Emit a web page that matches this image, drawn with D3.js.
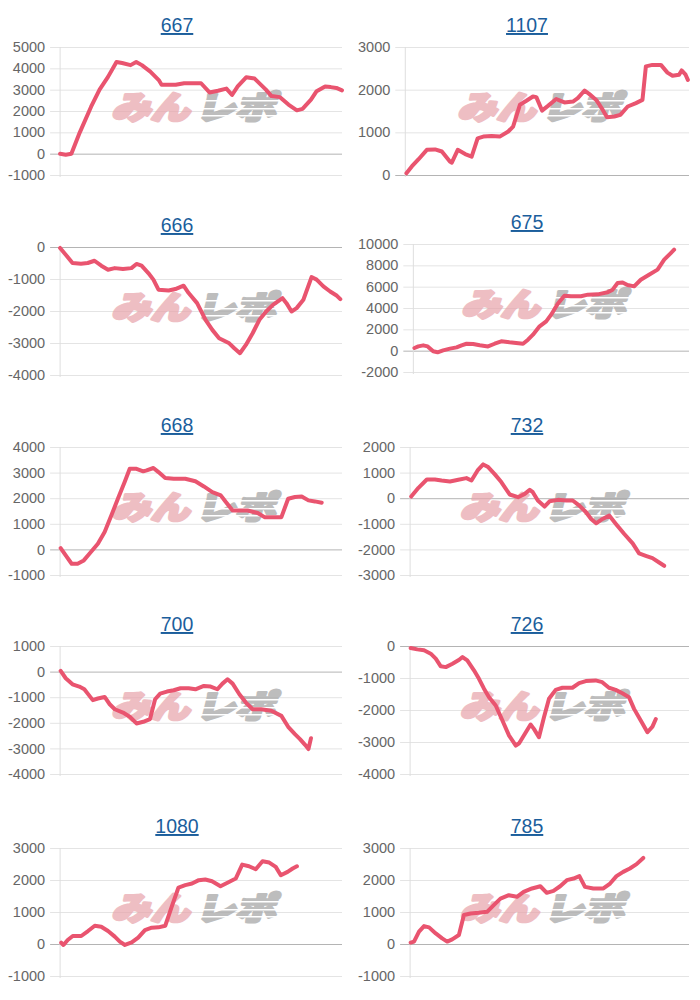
<!DOCTYPE html>
<html><head><meta charset="utf-8">
<script src="https://cdn.jsdelivr.net/npm/d3@7"></script>
<style>body{margin:0;background:#fff;} svg{display:block;}</style>
</head><body>
<svg id="chart" width="700" height="1000"></svg>
<script>
// ---- data: [progress %, 差枚] ----
const titles = ["667","1107","666","675","668","732","700","726","1080","785"];
const yRanges = [[-1000,5000],[0,3000],[-4000,0],[-2000,10000],[-1000,4000],[-3000,2000],[-4000,1000],[-4000,0],[-1000,3000],[-1000,3000]];
const yStepSizes = [1000,1000,1000,2000,1000,1000,1000,1000,1000,1000];

const s667 = [[0,0],[2,-50],[4,0],[7,1000],[11,2200],[14,3000],[17,3600],[20,4300],[22,4250],[25,4150],[27,4300],[29,4150],[32,3850],[35,3450],[36,3230],[41,3230],[44,3300],[50,3300],[53,2870],[56,2950],[59,3050],[61,2750],[63,3150],[66,3580],[69,3520],[73,3000],[75,2700],[78,2650],[81,2300],[84,2030],[86,2100],[89,2530],[91,2930],[94,3150],[96,3120],[98,3080],[100,2970]];
const s1107 = [[0.4,40],[2.3,200],[4.7,370],[7.6,590],[10.5,600],[12.9,550],[15.8,310],[16.4,290],[18.5,590],[21.1,490],[23.4,430],[25.5,860],[27.5,900],[30.4,915],[33.3,900],[36.3,1020],[38,1135],[40.4,1645],[42.7,1740],[45,1840],[46.2,1825],[48.2,1510],[50.3,1620],[53.2,1780],[56.1,1700],[59.1,1720],[60.8,1800],[63.2,1980],[64.9,1895],[67.3,1760],[69.6,1525],[71.1,1355],[73.7,1370],[75.8,1410],[78.4,1605],[81.3,1685],[83.6,1760],[84.8,2545],[87.1,2580],[90.1,2580],[92.4,2400],[94.2,2325],[96.5,2350],[97.4,2450],[98.8,2350],[99.6,2230]];
const s666 = [[0,-30],[2,-240],[4.4,-500],[7.4,-520],[9.8,-500],[12.2,-430],[14.6,-585],[17,-710],[19.4,-660],[22.3,-690],[25.3,-660],[27.1,-530],[28.9,-585],[31.3,-815],[33.1,-1020],[34.9,-1335],[38.5,-1360],[40.9,-1315],[43.8,-1210],[45.6,-1440],[48.6,-1755],[51.6,-2275],[54,-2590],[56.4,-2850],[60,-3010],[61.8,-3165],[63.8,-3320],[65.9,-3060],[68.3,-2695],[70.7,-2275],[73.1,-2015],[75.5,-1810],[78.9,-1600],[80.3,-1755],[82.1,-2015],[83.9,-1910],[86.3,-1650],[89.2,-940],[91,-1020],[93.4,-1230],[95.8,-1390],[98.2,-1525],[99.4,-1630]];
const s675 = [[0.4,250],[1.8,400],[3.6,500],[5.2,400],[7.2,-60],[8.8,-150],[10.8,30],[13.3,190],[15.7,310],[17.5,500],[19.3,650],[21.7,625],[24.1,500],[27.1,400],[29.5,650],[31.9,875],[34.9,780],[37.3,720],[39.8,650],[41.6,1030],[43.4,1500],[45.8,2280],[48.2,2750],[50,3375],[52.4,4400],[54.8,5150],[57.2,5100],[60.8,5100],[63.3,5250],[66.9,5280],[70.5,5470],[72.3,5720],[74.1,6340],[75.9,6400],[77.7,6150],[80.1,6030],[82.5,6650],[85.5,7120],[88.6,7600],[91,8530],[93.4,9150],[94.6,9470]];
const s668 = [[0.2,50],[2,-235],[4.1,-560],[6.2,-560],[8.4,-430],[10.4,-170],[13.4,220],[15.8,680],[18.2,1330],[20.5,1980],[22.9,2630],[24.7,3150],[27.1,3150],[29.5,3050],[30.7,3090],[33.1,3180],[34.9,3020],[37.3,2790],[40.3,2760],[44.4,2760],[48,2660],[51,2460],[54,2240],[57,2110],[58.8,1850],[61.2,1520],[63.6,1520],[66.5,1520],[70.1,1420],[72.5,1260],[75.5,1260],[78.5,1260],[80.9,1980],[83.3,2045],[85.7,2070],[88.1,1915],[90.4,1875],[92.8,1825]];
const s732 = [[0.4,65],[3,405],[6,730],[8.9,730],[11.3,690],[14.3,655],[17.3,720],[20.2,785],[22,690],[24.2,1085],[26.2,1320],[28,1215],[30.4,930],[32.7,630],[35.7,145],[38.7,40],[41.1,170],[42.9,325],[44,235],[45.8,-90],[48.2,-325],[50,-120],[53,-65],[56,-90],[58.3,-90],[60.7,-290],[63.1,-550],[64.9,-810],[66.7,-980],[69,-810],[71.4,-680],[73.8,-1005],[76.8,-1400],[79.8,-1765],[82.1,-2155],[84.5,-2250],[86.9,-2340],[89.3,-2510],[91.1,-2640]];
const s700 = [[0.2,25],[2,-260],[4.4,-495],[6.8,-585],[8.6,-690],[9.8,-860],[11.6,-1115],[13.4,-1050],[15.8,-990],[17.6,-1275],[19.4,-1470],[22.3,-1600],[24.7,-1765],[27.1,-2025],[29.5,-1960],[31.9,-1855],[33.7,-1080],[35.5,-860],[37.9,-780],[40.3,-730],[42.7,-650],[45.6,-650],[48,-690],[51,-560],[53.4,-585],[55.8,-690],[57.6,-470],[59.4,-300],[61.2,-470],[63.6,-885],[65.9,-1210],[68.3,-1470],[71.3,-1470],[74.9,-1530],[78.5,-1730],[80.9,-2155],[83.3,-2440],[85.1,-2635],[86.9,-2860],[88.1,-3025],[89,-2600]];
const s726 = [[0.2,-60],[2.6,-105],[5,-135],[7.4,-240],[9.2,-395],[11,-635],[12.8,-660],[15.2,-555],[17.6,-430],[18.8,-345],[20.5,-450],[22.9,-760],[24.7,-1025],[26.5,-1335],[28.3,-1600],[30.7,-1860],[33.1,-2330],[35.5,-2800],[37.9,-3110],[39.1,-3040],[41.5,-2695],[43.2,-2455],[44.4,-2590],[46.2,-2850],[48,-2225],[49.8,-1650],[52.2,-1370],[54.6,-1305],[58.2,-1305],[60.6,-1160],[63,-1095],[66.5,-1075],[68.9,-1130],[71.3,-1305],[73.7,-1370],[76.1,-1475],[78.5,-1600],[80.3,-1965],[82.7,-2330],[85.1,-2695],[86.9,-2520],[88.1,-2280]];
const s1080 = [[0.4,40],[1.2,-30],[2.7,125],[4.5,250],[7.5,250],[9.9,405],[12.3,570],[14.6,540],[17,405],[19.4,230],[21.2,75],[23,-30],[25.4,50],[27.7,200],[30.1,435],[32.5,510],[34.9,520],[37.3,570],[39.6,1165],[42,1765],[44.4,1840],[46.8,1890],[49.2,1995],[51.5,2015],[53.9,1960],[56.9,1805],[59.9,1940],[62.3,2045],[64.6,2480],[67,2430],[69.4,2335],[71.8,2585],[74.2,2545],[76.5,2410],[78.3,2150],[80.7,2255],[82.5,2360],[84,2430]];
const s785 = [[0.2,40],[1.4,75],[3.2,385],[5,560],[6.8,520],[9.2,330],[11.5,175],[13.3,75],[15.1,145],[17.5,280],[19.3,905],[21.7,955],[24.6,975],[27.6,1005],[30,1215],[32.4,1420],[35.4,1525],[38.3,1475],[40.7,1630],[43.7,1735],[46.7,1805],[49,1600],[51.4,1660],[53.8,1805],[56.2,1995],[58.6,2045],[60.7,2120],[62.7,1785],[65.7,1735],[69.3,1735],[71.7,1890],[74,2120],[76.4,2255],[78.8,2360],[81.2,2495],[83.6,2690]];

const seriesList = [s667,s1107,s666,s675,s668,s732,s700,s726,s1080,s785];

// ---- layout ----
const plotTops = [47,47,247,244,447,447,646,646,848,848];
const plotH = 128;
const FONT = "'Liberation Sans', Arial, sans-serif";
const svg = d3.select("#chart");

seriesList.forEach((data, i) => {
  const col = i % 2, colX = col * 350;
  const top = plotTops[i], bottom = top + plotH;
  const [ymin, ymax] = yRanges[i];
  const ticks = d3.range(ymin, ymax + 1, yStepSizes[i]);
  const g = svg.append("g");

  const tmp = g.append("text").attr("font-family", FONT).attr("font-size", 14.5);
  let w = 0;
  ticks.forEach(t => { tmp.text(String(t)); w = Math.max(w, tmp.node().getComputedTextLength()); });
  tmp.remove();

  const left = colX + 8 + w + 15;
  const right = colX + (col ? 339 : 342);
  const x = d3.scaleLinear().domain([0, 100]).range([left, right]);
  const y = d3.scaleLinear().domain([ymin, ymax]).range([bottom, top]);

  // title
  g.append("text")
    .attr("x", colX + 177).attr("y", top - 15)
    .attr("text-anchor", "middle")
    .attr("font-family", FONT).attr("font-size", 19.5)
    .attr("fill", "#1b5e9c")
    .style("text-decoration", "underline")
    .text(titles[i]);

  // axis + grid
  const ax = g.append("g")
    .attr("transform", `translate(${left - 10},0)`)
    .call(d3.axisLeft(y).tickValues(ticks).tickSize(-(right - left + 10)).tickPadding(5).tickFormat(d => String(d)));
  ax.select(".domain").remove();
  ax.selectAll(".tick line").attr("stroke", d => d === 0 ? "#b4b4b4" : "#e4e4e4").attr("stroke-width", 1);
  ax.selectAll(".tick text").attr("fill", "#666").attr("font-family", FONT).attr("font-size", 14.5);

  g.append("line").attr("x1", left).attr("x2", left).attr("y1", top).attr("y2", bottom + 2)
    .attr("stroke", "#dedede");

  // watermark
  const wm = g.append("g").attr("transform", `translate(${(left + right) / 2 - 4},${top + 58}) skewX(-14)`);
  wm.append("text").attr("x", -82).attr("y", 0).attr("dominant-baseline", "central")
    .attr("font-family", "'Noto Sans CJK JP'").attr("font-weight", 900).attr("font-size", 32)
    .attr("textLength", 78).attr("lengthAdjust", "spacingAndGlyphs")
    .attr("fill", "#e8a3ab").attr("stroke", "#e8a3ab").attr("stroke-width", 3).attr("stroke-linejoin", "round")
    .attr("opacity", 0.7).text("みん");
  wm.append("text").attr("x", 2).attr("y", 0).attr("dominant-baseline", "central")
    .attr("font-family", "'Noto Sans CJK JP'").attr("font-weight", 900).attr("font-size", 32)
    .attr("textLength", 80).attr("lengthAdjust", "spacingAndGlyphs")
    .attr("fill", "#a8a8a8").attr("stroke", "#a8a8a8").attr("stroke-width", 3).attr("stroke-linejoin", "round")
    .attr("opacity", 0.75).text("レポ");
  [-5, 3, 10].forEach(dy => {
    wm.append("rect").attr("x", 0).attr("y", dy).attr("width", 88).attr("height", 1.5).attr("fill", "#fff");
  });

  // line
  g.append("path").datum(data)
    .attr("fill", "none").attr("stroke", "#e9546f").attr("stroke-width", 4)
    .attr("stroke-linejoin", "round").attr("stroke-linecap", "round")
    .attr("d", d3.line().x(d => x(d[0])).y(d => y(d[1])));
});
</script>
</body></html>
